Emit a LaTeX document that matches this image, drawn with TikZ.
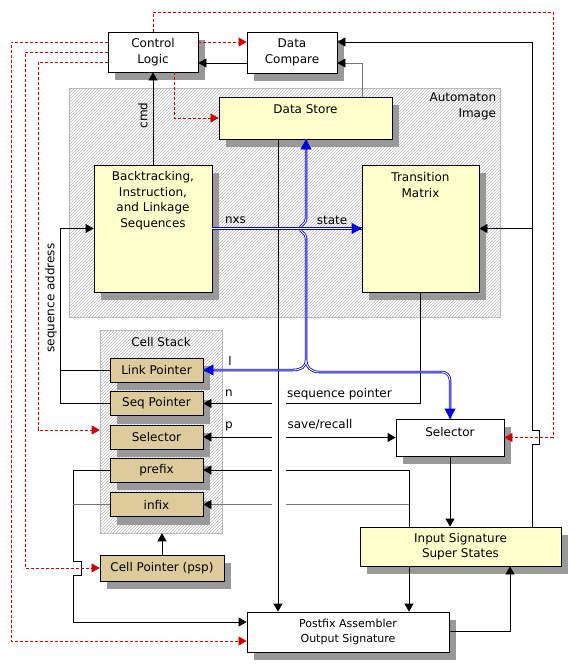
\documentclass[tikz,border=0pt]{standalone}
\usepackage{fontspec}
\setmainfont{DejaVu Sans}
\usetikzlibrary{arrows.meta,patterns,shadows,calc}
\definecolor{boxyellow}{RGB}{255,255,204}
\definecolor{boxtan}{RGB}{221,203,155}
\definecolor{shadowgray}{RGB}{153,153,153}
\definecolor{dashred}{RGB}{210,0,0}
\definecolor{lineblue}{RGB}{0,0,220}
\definecolor{hatchgray}{RGB}{185,185,185}
\definecolor{thingray}{RGB}{120,120,120}
\begin{document}
\begin{tikzpicture}[x=1pt,y=-1pt,
  font=\fontsize{12}{15.5}\selectfont,
  shad/.style={drop shadow={shadow xshift=7pt,shadow yshift=-8pt,fill=shadowgray,opacity=1}},
  box/.style={draw=black,line width=0.8pt,shad,inner sep=0pt,align=center,anchor=center},
  wbox/.style={box,fill=white},
  ybox/.style={box,fill=boxyellow},
  tbox/.style={box,fill=boxtan,minimum width=93pt,minimum height=24pt},
  region/.style={draw=hatchgray,line width=0.6pt,pattern=north east lines,pattern color=hatchgray,inner sep=0pt},
  conn/.style={line width=0.8pt,draw=black},
  arr/.style={conn,-{Triangle[length=8pt,width=9pt]}},
  gconn/.style={line width=0.7pt,draw=thingray},
  garr/.style={gconn,-{Triangle[length=8pt,width=9pt,color=black,fill=black]}},
  rline/.style={draw=dashred,line width=0.7pt,dash pattern=on 3pt off 2pt},
  rarr/.style={rline,-{Triangle[length=8pt,width=9pt,fill=dashred]}},
  bline/.style={draw=lineblue,line width=0.8pt,double=white,double distance=0.9pt},
  btip/.style={draw=lineblue,line width=0.8pt,-{Triangle[length=10pt,width=11pt,fill=lineblue]}},
  lbl/.style={inner sep=0pt}
]
\useasboundingbox (0,0) rectangle (579,670);
\fill[white] (0,0) rectangle (579,670);

% regions
\node[region,minimum width=431pt,minimum height=229pt,
  label={[anchor=north east,align=right,inner sep=0pt,xshift=-4pt,yshift=-5pt]north east:{Automaton\\Image}}] (ai) at (284.5,202.5) {};
\node[region,minimum width=122pt,minimum height=203pt,
  label={[anchor=center,yshift=-12pt]north:{Cell Stack}}] (cs) at (161,431.5) {};

% boxes
\node[wbox,minimum width=90pt,minimum height=40pt] (cl) at (153,52) {Control\\Logic};
\node[wbox,minimum width=90pt,minimum height=41pt] (dc) at (292,52.5) {Data\\Compare};
\node[ybox,minimum width=173pt,minimum height=42pt,
  label={[anchor=center,yshift=-13pt]north:{Data Store}}] (ds) at (305.5,118) {};
\node[ybox,minimum width=118pt,minimum height=127pt,
  label={[anchor=center,align=center,yshift=-36pt]north:{Backtracking,\\Instruction,\\and Linkage\\Sequences}}] (bt) at (153,228.5) {};
\node[ybox,minimum width=117pt,minimum height=127pt,
  label={[anchor=center,align=center,yshift=-20.5pt]north:{Transition\\Matrix}}] (tm) at (420.5,228.5) {};
\node[tbox] (lp) at (156.5,370) {Link Pointer};
\node[tbox] (sp) at (156.5,403.5) {Seq Pointer};
\node[tbox] (sel1) at (156.5,437) {Selector};
\node[tbox] (pre) at (156.5,470) {prefix};
\node[tbox] (inf) at (156.5,504.5) {infix};
\node[box,fill=boxtan,minimum width=124pt,minimum height=26pt] (cp) at (162,568) {Cell Pointer (psp)};
\node[wbox,minimum width=108pt,minimum height=37pt,
  label={[anchor=center,yshift=-13pt]north:{Selector}}] (sel2) at (450,437.5) {};
\node[ybox,minimum width=201pt,minimum height=39pt] (is) at (460.5,546.5) {Input Signature\\Super States};
\node[wbox,minimum width=202pt,minimum height=40pt,font=\fontsize{11}{15.5}\selectfont] (pa) at (348,632) {Postfix Assembler\\Output Signature};

% coordinates
\coordinate (jn) at (306,360);
\coordinate (gl1) at (272,403.5); \coordinate (gr1) at (286,403.5);
\coordinate (gl2) at (272,437);   \coordinate (gr2) at (286,437.5);
\coordinate (gl3) at (272,470);   \coordinate (gr3) at (286,470);
\coordinate (gl4) at (272,504.5); \coordinate (gr4) at (286,504.5);

% black connectors
\draw[arr] (bt.north) -- (cl.south);
\draw[arr] (dc.west |- 0,63) -- (cl.east |- 0,63);
\draw[garr] (ds.north -| 362,0) |- (dc.east |- 0,63);
\draw[arr] (is.north -| 532,0) -- (532,444) -- (539,444) -- (539,430) -- (532,430) |- (dc.east |- 0,42);
\draw[arr] (532,228.5) -- (tm.east);
\draw[arr] (ds.south -| 278,0) -- (pa.north -| 278,0);
\draw[arr] (lp.west) -- (60,370) |- (bt.west);
\draw[conn] (sp.west) -| (60,370);
\draw[conn] (tm.south) |- (gr1);
\draw[arr] (gl1) -- (sp.east);
\draw[arr] (gr2) -- (sel2.west);
\draw[arr] (gl2) -- (sel1.east);
\draw[conn] (is.north -| 409,0) |- (gr3);
\draw[arr] (gl3) -- (pre.east);
\draw[gconn] (409,504.5) -- (gr4);
\draw[garr] (gl4) -- (inf.east);
\draw[arr] (sel2.south) -- (is.north -| sel2.south);
\draw[arr] (is.south -| 409,0) -- (pa.north -| 409,0);
\draw[arr] (pa.east |- 0,631) -| (is.south -| 510,0);
\draw[arr] (pre.west) -| (73,561) -- (81,561) -- (81,575) -- (73,575) |- (pa.west |- 0,622);
\draw[gconn] (inf.west) -- (73,504.5);
\draw[arr] (cp.north) -- (cp.north |- cs.south);

% red dashed
\draw[rarr] (cl.east |- 0,42) -- (dc.west |- 0,42);
\draw[rarr] (cl.south -| 174,0) |- (ds.west);
\draw[rarr] (cl.north) |- (553,12) |- (sel2.east);
\draw[rarr] (cl.west |- 0,42) -| (11,641) -- (pa.west |- 0,641);
\draw[rarr] (cl.west |- 0,52) -| (25,568) -- (cp.west);
\draw[rarr] (cl.west |- 0,62) -| (38,430) -- (cs.west |- 0,430);

% blue double lines
\draw[bline] (lp.east) -- (293,370) .. controls (301,370) and (306,367) .. (jn)
  -- (306,238) .. controls (306,233) and (300,232) .. (300,228.5)
  .. controls (300,225) and (306,224) .. (306,219) -- (ds.south -| 306,0)
  (jn) .. controls (306,367) and (311,372) .. (319,372) [rounded corners=8pt] -| (sel2.north);
\draw[bline] (bt.east) -- (tm.west);
\draw[btip] ($(ds.south -| 306,0)+(0,10)$) -- (ds.south -| 306,0);
\draw[btip] ($(lp.east)+(10,0)$) -- (lp.east);
\draw[btip] ($(sel2.north)+(0,-10)$) -- (sel2.north);
\draw[btip] ($(tm.west)+(-10,0)$) -- (tm.west);

% labels
\node[lbl,rotate=90] (lcmd) at (143,115.5) {cmd};
\node[lbl,rotate=90] (lsa) at (51,298) {sequence address};
\node[lbl] (lnxs) at (235.5,220) {nxs};
\node[lbl] (lstate) at (332,220) {state};
\node[lbl] (ll) at (230,361) {l};
\node[lbl] (ln) at (229,393) {n};
\node[lbl] (lp2) at (229,426) {p};
\node[lbl] (lsp) at (339.5,394) {sequence pointer};
\node[lbl] (lsr) at (320,424) {save/recall};
\end{tikzpicture}
\end{document}
